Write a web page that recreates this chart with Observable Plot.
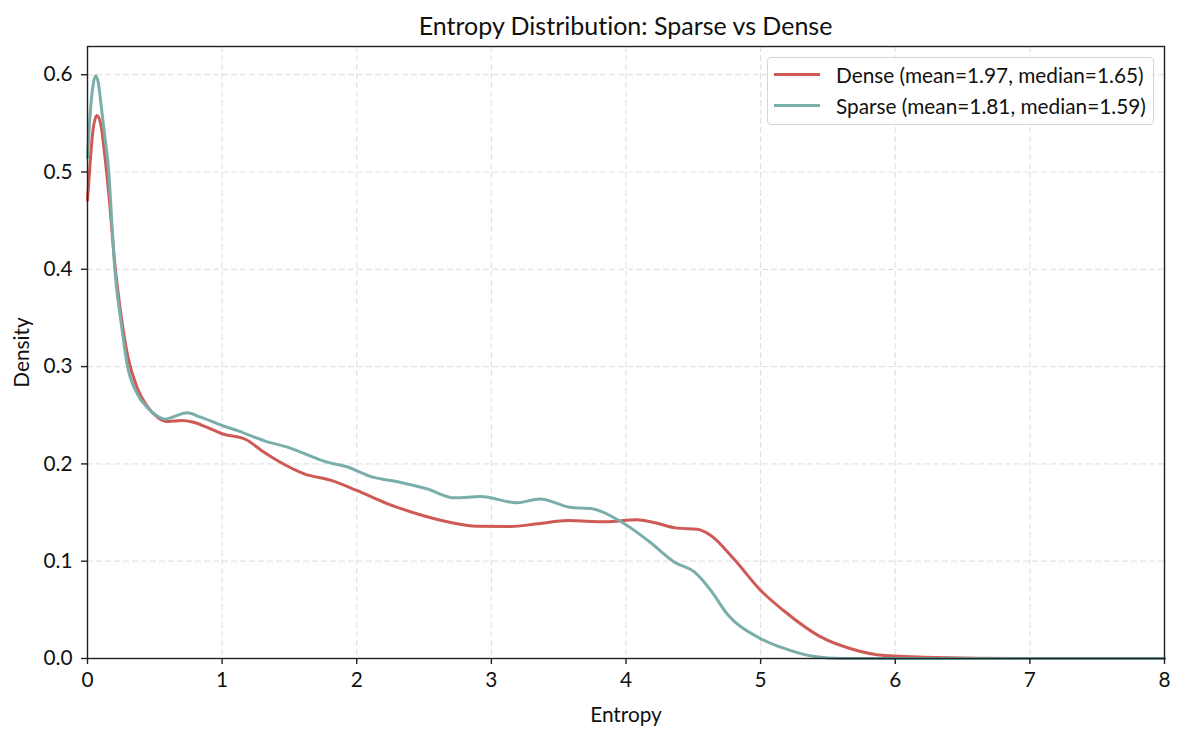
<!DOCTYPE html>
<html>
<head>
<meta charset="utf-8">
<script src="https://cdn.jsdelivr.net/npm/d3@7"></script>
<script src="https://cdn.jsdelivr.net/npm/@observablehq/plot@0.6"></script>
<style>
  body { margin: 0; background: #fff; font-family: Lato, "Open Sans", sans-serif; font-variant-ligatures: none; }
  svg, svg text { font-variant-ligatures: none; }
  #wrap { position: relative; width: 1185px; height: 737px; }
  #title { position: absolute; left: 87px; width: 1077px; top: 13px; line-height: 25px; text-align: center; font-size: 25px; color: #111; }
  #legend { position: absolute; left: 767px; top: 57px; width: 387px; height: 68px; border: 1px solid #d5d5d5; border-radius: 4px; background: rgba(255,255,255,0.85); box-sizing: border-box; }
  .row { position: absolute; left: 6px; height: 24px; display: flex; align-items: center; font-size: 20.8px; color: #111; white-space: nowrap; }
  .sw { width: 46px; height: 3px; margin-right: 16px; }
</style>
</head>
<body>
<div id="wrap">
  <div id="chart"></div>
  <div id="title">Entropy Distribution: Sparse vs Dense</div>
  <div id="legend">
    <div class="row" style="top:4px"><div class="sw" style="background:#cf5a55"></div><span id="l0"></span></div>
    <div class="row" style="top:35px"><div class="sw" style="background:#7aaeaa"></div><span id="l1"></span></div>
  </div>
</div>
<script>
const seriesNames = ["Dense", "Sparse"];
const seriesLabels = ["Dense (mean=1.97, median=1.65)", "Sparse (mean=1.81, median=1.59)"];
const seriesColors = ["#cf5a55", "#7aaeaa"];

const denseX = [0, 0.02, 0.04, 0.07, 0.1, 0.13, 0.16, 0.2, 0.25, 0.3, 0.37, 0.44, 0.52, 0.6, 0.7, 0.78, 0.88, 1.0, 1.18, 1.3, 1.41, 1.61, 1.81, 2.0, 2.23, 2.49, 2.69, 2.89, 3.14, 3.34, 3.57, 3.85, 4.08, 4.2, 4.38, 4.53, 4.63, 4.8, 5.0, 5.17, 5.45, 5.67, 5.92, 6.3, 7.0, 8.0];
const denseY = [0.471, 0.51, 0.542, 0.558, 0.548, 0.515, 0.475, 0.41, 0.352, 0.31, 0.278, 0.26, 0.248, 0.2435, 0.2445, 0.243, 0.238, 0.231, 0.2248, 0.213, 0.2035, 0.1898, 0.183, 0.1727, 0.159, 0.147, 0.14, 0.136, 0.1357, 0.1384, 0.1418, 0.1405, 0.1425, 0.14, 0.134, 0.1328, 0.1264, 0.1025, 0.07, 0.0493, 0.0219, 0.01, 0.003, 0.001, 0.0, 0.0];

const sparseX = [0, 0.02, 0.04, 0.06, 0.08, 0.1, 0.13, 0.158, 0.18, 0.203, 0.25, 0.295, 0.37, 0.443, 0.52, 0.58, 0.65, 0.74, 0.84, 1.0, 1.12, 1.32, 1.49, 1.78, 1.92, 2.12, 2.32, 2.52, 2.73, 2.92, 3.19, 3.36, 3.58, 3.75, 3.97, 4.17, 4.36, 4.51, 4.63, 4.75, 4.98, 5.15, 5.4, 5.6, 8.0];
const sparseY = [0.515, 0.56, 0.588, 0.599, 0.592, 0.57, 0.535, 0.5, 0.45, 0.4, 0.345, 0.302, 0.272, 0.258, 0.249, 0.246, 0.249, 0.2525, 0.248, 0.2395, 0.234, 0.2234, 0.217, 0.2018, 0.1973, 0.1864, 0.1812, 0.1744, 0.1651, 0.1665, 0.16, 0.164, 0.1555, 0.1538, 0.14, 0.1205, 0.099, 0.0887, 0.07, 0.046, 0.0219, 0.0116, 0.002, 0.0, 0.0];

const xTicks = [0, 1, 2, 3, 4, 5, 6, 7, 8];
const yTicks = [0.0, 0.1, 0.2, 0.3, 0.4, 0.5, 0.6];

const rows = [
  ...denseX.map((x, i) => ({series: seriesNames[0], x, y: denseY[i]})),
  ...sparseX.map((x, i) => ({series: seriesNames[1], x, y: sparseY[i]}))
];

document.getElementById("l0").textContent = seriesLabels[0];
document.getElementById("l1").textContent = seriesLabels[1];

const chart = Plot.plot({
  width: 1185,
  height: 737,
  marginLeft: 87,
  marginRight: 21,
  marginTop: 46,
  marginBottom: 79,
  style: {fontFamily: "Lato, 'Open Sans', sans-serif", fontSize: "20.8px", color: "#111", background: "#fff"},
  x: {domain: [0, 8]},
  y: {domain: [0, 0.629]},
  color: {domain: seriesNames, range: seriesColors},
  marks: [
    Plot.gridX(xTicks, {stroke: "#d9d9d9", strokeOpacity: 0.75, strokeDasharray: "6,3", strokeWidth: 1.2}),
    Plot.gridY(yTicks, {stroke: "#d9d9d9", strokeOpacity: 0.75, strokeDasharray: "6,3", strokeWidth: 1.2}),
    Plot.line(rows, {x: "x", y: "y", z: "series", stroke: "series", strokeWidth: 3, curve: "monotone-x"}),
    Plot.frame({stroke: "#222", strokeWidth: 1.4}),
    Plot.axisX({ticks: xTicks, tickFormat: d => String(d), label: "Entropy", labelAnchor: "center", labelArrow: "none", labelOffset: 63, tickSize: 6, tickPadding: 8, stroke: "#222", strokeWidth: 1.4}),
    Plot.axisY({ticks: yTicks, tickFormat: d => d.toFixed(1), label: "Density", labelAnchor: "center", labelArrow: "none", labelOffset: 73, tickSize: 6, tickPadding: 9, stroke: "#222", strokeWidth: 1.4})
  ]
});
document.getElementById("chart").appendChild(chart);
</script>
</body>
</html>
